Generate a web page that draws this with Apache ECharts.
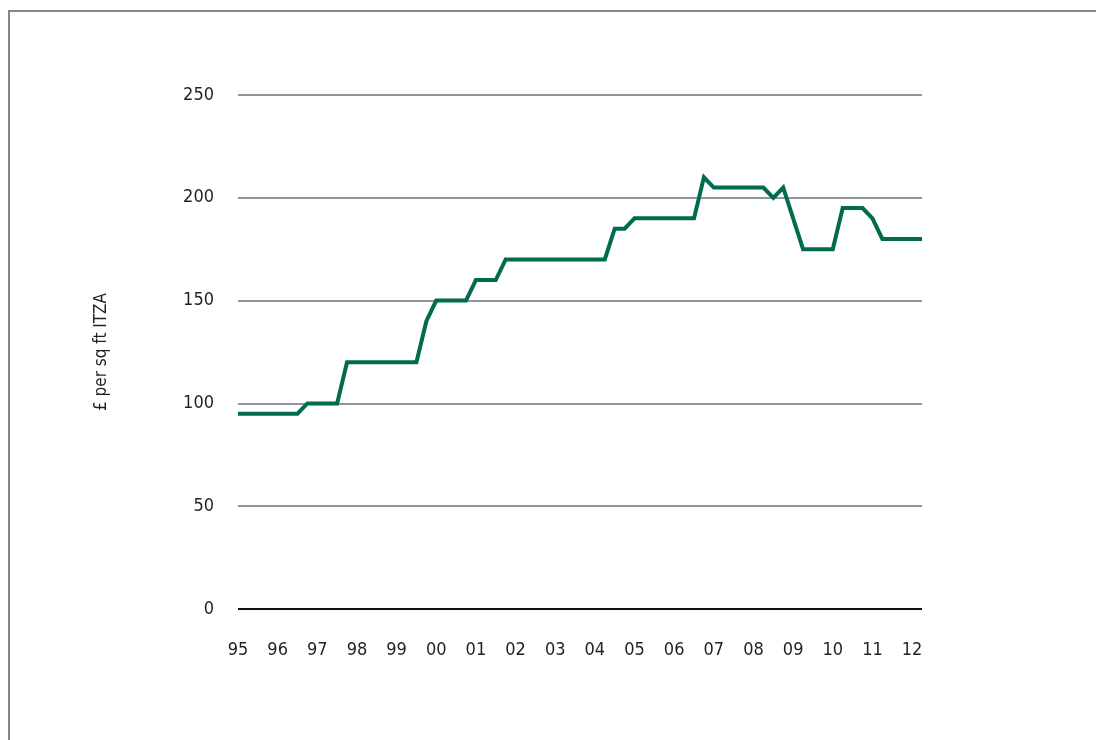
<!DOCTYPE html>
<html>
<head>
<meta charset="utf-8">
<script src="https://cdn.jsdelivr.net/npm/echarts@6/dist/echarts.min.js"></script>
<style>
  html, body { margin: 0; padding: 0; background: #fff; }
  #chart { width: 1096px; height: 740px; }
</style>
</head>
<body>
<div id="chart"></div>
<script>
// year tick labels (one per year, first quarter)
const years = ['95', '96', '97', '98', '99', '00', '01', '02', '03', '04', '05', '06', '07', '08', '09', '10', '11', '12']
const quarters = ['Q1', 'Q2', 'Q3', 'Q4']

// £ per sq ft ITZA, quarterly from 95 Q1 to 12 Q2
const rents = [
  95, 95, 95, 95, 95, 95, 95,
  100, 100, 100, 100,
  120, 120, 120, 120, 120, 120, 120, 120,
  140,
  150, 150, 150, 150,
  160, 160, 160,
  170, 170, 170, 170, 170, 170, 170, 170, 170, 170, 170,
  185, 185,
  190, 190, 190, 190, 190, 190, 190,
  210,
  205, 205, 205, 205, 205, 205,
  200,
  205,
  190,
  175, 175, 175, 175,
  195, 195, 195,
  190,
  180, 180, 180, 180, 180
]

const yTicks = [0, 50, 100, 150, 200, 250]

const categories = []
years.forEach(y => quarters.forEach(q => categories.push(y + ' ' + q)))
categories.length = rents.length

const font = "'Liberation Sans Narrow', 'DejaVu Sans Condensed', sans-serif"
const colors = {
  line: '#006b4f',
  grid: '#8f969a',
  axis: '#111111',
  text: '#231f20',
  frame: '#868686'
}

const chart = echarts.init(document.getElementById('chart'))

chart.setOption({
  backgroundColor: '#ffffff',
  animation: false,
  graphic: [
    {
      type: 'polyline',
      silent: true,
      shape: { points: [[9, 740], [9, 11], [1096, 11]] },
      style: { stroke: colors.frame, lineWidth: 2, fill: null }
    }
  ],
  grid: {
    left: 238,
    right: 174,
    top: 95,
    bottom: 131,
    containLabel: false
  },
  xAxis: {
    type: 'category',
    data: categories,
    boundaryGap: false,
    axisLine: { show: false },
    axisTick: { show: false },
    axisLabel: {
      interval: 3,
      margin: 32,
      color: colors.text,
      fontFamily: font,
      fontSize: 18,
      formatter: v => v.split(' ')[0]
    },
    splitLine: { show: false }
  },
  yAxis: {
    type: 'value',
    min: yTicks[0],
    max: yTicks[yTicks.length - 1],
    interval: 50,
    name: '£ per sq ft ITZA',
    nameLocation: 'middle',
    nameRotate: 90,
    nameGap: 128,
    nameTextStyle: { color: colors.text, fontFamily: font, fontSize: 17 },
    axisLine: { show: false },
    axisTick: { show: false },
    axisLabel: {
      margin: 24,
      color: colors.text,
      fontFamily: font,
      fontSize: 18
    },
    splitLine: {
      lineStyle: { color: colors.grid, width: 2 }
    }
  },
  series: [
    {
      type: 'line',
      data: rents,
      showSymbol: false,
      lineStyle: { color: colors.line, width: 4, join: 'miter' },
      itemStyle: { color: colors.line },
      markLine: {
        silent: true,
        symbol: 'none',
        label: { show: false },
        lineStyle: { color: colors.axis, width: 2, type: 'solid' },
        data: [{ yAxis: 0 }]
      }
    }
  ]
})
</script>
</body>
</html>
